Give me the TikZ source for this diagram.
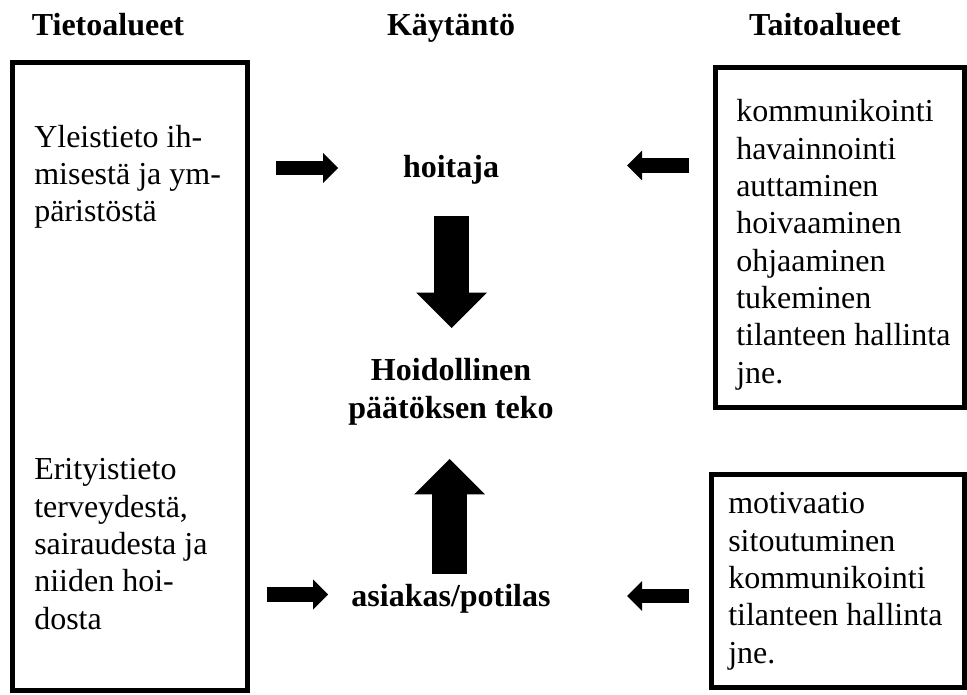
\documentclass[tikz,border=0pt]{standalone}
\usepackage{fontspec}
\setmainfont{Liberation Serif}
\usetikzlibrary{arrows.meta}
\tikzset{
  otsikko/.style={font=\fontsize{24}{28}\selectfont\bfseries, anchor=base, inner sep=0pt},
  teksti/.style={font=\fontsize{24}{28}\selectfont, align=left, anchor=base west, inner sep=0pt},
  keski/.style={font=\fontsize{24}{28}\selectfont\bfseries, align=center, anchor=base, inner sep=0pt},
  laatikko/.style={line width=3.4pt},
  pieninuoli/.style={line width=11pt, -{Triangle[width=22.5pt,length=11.25pt,line width=0pt]}},
  isonuoli/.style={line width=26.25pt, -{Triangle[width=53pt,length=26.5pt,line width=0pt]}}
}

\begin{document}
\begin{tikzpicture}[x=0.75pt,y=-0.75pt]
\useasboundingbox (0,0) rectangle (967,695);

% Otsikot
\node[otsikko] (tieto) at (108,36) {Tietoalueet};
\node[otsikko] (kaytanto) at (451,36) {Käytäntö};
\node[otsikko] (taito) at (825,36) {Taitoalueet};

% Laatikot
\draw[laatikko] (12.5,62.5) rectangle (247.5,690.5);
\draw[laatikko] (715.5,67.5) rectangle (964.5,407.5);
\draw[laatikko] (711.5,474.5) rectangle (964.5,687.5);

% Tietoalueet (ankkuri = viimeisen rivin perusviiva)
\node[teksti] (yleis) at (34,222) {Yleistieto ih-\\misestä ja ym-\\päristöstä};
\node[teksti] (erityis) at (34,629) {Erityistieto\\terveydestä,\\sairaudesta ja\\niiden hoi-\\dosta};

% Taitoalueet
\node[teksti] (hoitajantaidot) at (736,383) {kommunikointi\\havainnointi\\auttaminen\\hoivaaminen\\ohjaaminen\\tukeminen\\tilanteen hallinta\\jne.};
\node[teksti] (asiakkaantaidot) at (728,663) {motivaatio\\sitoutuminen\\kommunikointi\\tilanteen hallinta\\jne.};

% Käytäntö
\node[keski] (hoitaja) at (451,178) {hoitaja};
\node[keski] (paatos) at (451,418) {Hoidollinen\\päätöksen teko};
\node[keski] (asiakas) at (451,606) {asiakas/potilas};

% Nuolet
\coordinate (yleisA) at (276,168);
\coordinate (yleisB) at (338,168);
\coordinate (taitoA) at (689,165.5);
\coordinate (taitoB) at (627,165.5);
\coordinate (erityisA) at (267,594.5);
\coordinate (erityisB) at (328,594.5);
\coordinate (asiakasA) at (689,596);
\coordinate (asiakasB) at (627,596);
\coordinate (alasA) at (451.5,216);
\coordinate (alasB) at (451.5,328);
\coordinate (ylosA) at (449.5,574);
\coordinate (ylosB) at (449.5,459);

\draw[pieninuoli] (yleisA) -- (yleisB);
\draw[pieninuoli] (taitoA) -- (taitoB);
\draw[pieninuoli] (erityisA) -- (erityisB);
\draw[pieninuoli] (asiakasA) -- (asiakasB);
\draw[isonuoli] (alasA) -- (alasB);
\draw[isonuoli] (ylosA) -- (ylosB);
\end{tikzpicture}
\end{document}
